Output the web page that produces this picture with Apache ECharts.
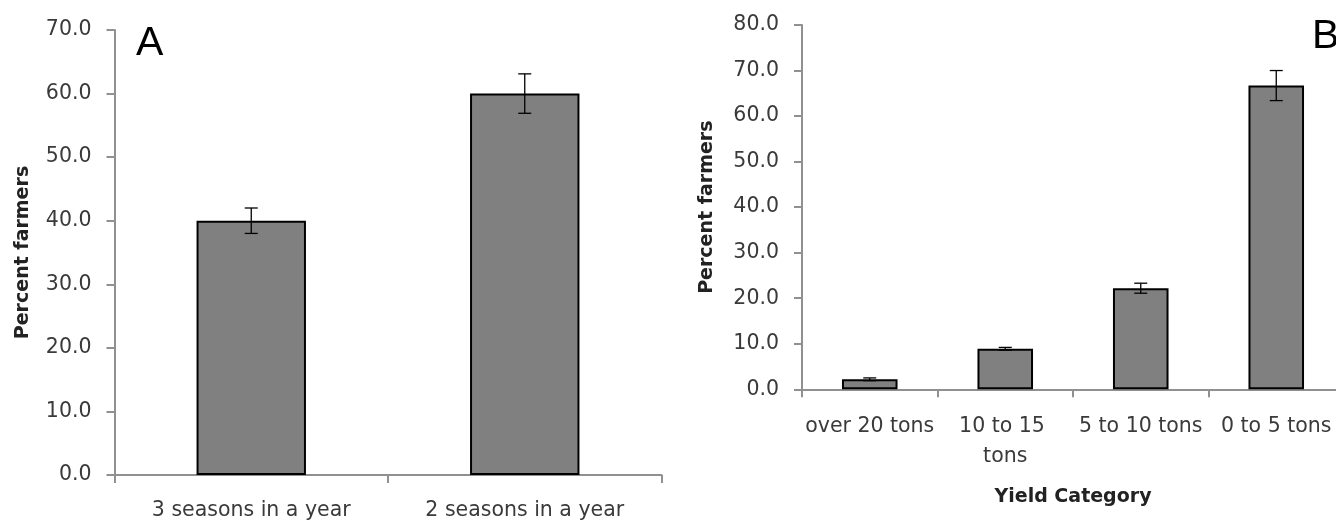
<!DOCTYPE html>
<html>
<head>
<meta charset="utf-8">
<script src="https://cdn.jsdelivr.net/npm/echarts@6/dist/echarts.min.js"></script>
<style>
  html, body { margin: 0; padding: 0; background: #ffffff; }
  #chart { width: 1336px; height: 520px; }
</style>
</head>
<body>
<div id="chart"></div>
<script>
// Panel A data
var categoriesA = ['3 seasons in a year', '2 seasons in a year'];
var valuesA = [40.0, 60.0];
var errorsA = [2.0, 3.1];
var yTicksA = { min: 0, max: 70, interval: 10 };

// Panel B data
var categoriesB = ['over 20 tons', '10 to 15 tons', '5 to 10 tons', '0 to 5 tons'];
var valuesB = [2.2, 8.9, 22.2, 66.7];
var errorsB = [0.3, 0.3, 1.1, 3.3];
var yTicksB = { min: 0, max: 80, interval: 10 };

var panelLabels = ['A', 'B'];
var yAxisName = 'Percent farmers';
var xAxisNameB = 'Yield Category';

var axisColor = '#909090';
var labelColor = '#3a3a3a';
var nameColor = '#222222';
var barFill = '#808080';
var fontFam = 'DejaVu Sans';

function errorSeries(xi, yi, values, errors) {
  return {
    type: 'custom',
    xAxisIndex: xi,
    yAxisIndex: yi,
    silent: true,
    z: 5,
    data: values.map(function (v, i) { return [i, v - errors[i], v + errors[i]]; }),
    renderItem: function (params, api) {
      var x = api.value(0);
      var lo = api.coord([x, api.value(1)]);
      var hi = api.coord([x, api.value(2)]);
      var hw = 6.5;
      var st = { stroke: '#000000', lineWidth: 1.3 };
      return {
        type: 'group',
        children: [
          { type: 'line', shape: { x1: hi[0], y1: hi[1], x2: lo[0], y2: lo[1] }, style: st },
          { type: 'line', shape: { x1: hi[0] - hw, y1: hi[1], x2: hi[0] + hw, y2: hi[1] }, style: st },
          { type: 'line', shape: { x1: lo[0] - hw, y1: lo[1], x2: lo[0] + hw, y2: lo[1] }, style: st }
        ]
      };
    }
  };
}

function yAxisCfg(gi, ticks, gap) {
  return {
    type: 'value',
    gridIndex: gi,
    min: ticks.min,
    max: ticks.max,
    interval: ticks.interval,
    name: yAxisName,
    nameLocation: 'middle',
    nameRotate: 90,
    nameGap: gap,
    nameTextStyle: { fontFamily: fontFam, fontWeight: 'bold', fontSize: 19, color: nameColor },
    axisLine: { show: true, lineStyle: { color: axisColor, width: 2 } },
    axisTick: { show: true, length: 8, lineStyle: { color: axisColor, width: 2 } },
    splitLine: { show: false },
    axisLabel: {
      margin: 23,
      fontFamily: fontFam,
      fontSize: 20.5,
      color: labelColor,
      formatter: function (v) { return v.toFixed(1); }
    }
  };
}

function xAxisCfg(gi, cats, extra) {
  var ax = {
    type: 'category',
    gridIndex: gi,
    data: cats,
    axisLine: { show: true, lineStyle: { color: axisColor, width: 2 } },
    axisTick: { show: true, length: 8, alignWithLabel: false, lineStyle: { color: axisColor, width: 2 } },
    axisLabel: {
      interval: 0,
      margin: 21,
      fontFamily: fontFam,
      fontSize: 20.5,
      lineHeight: 30,
      color: labelColor
    }
  };
  if (extra) {
    for (var k in extra) { ax[k] = extra[k]; }
  }
  return ax;
}

var chart = echarts.init(document.getElementById('chart'), null, { renderer: 'canvas' });

var option = {
  backgroundColor: '#ffffff',
  animation: false,
  title: [
    { text: panelLabels[0], left: 136, top: 23, padding: 0,
      textStyle: { fontFamily: 'Liberation Sans', fontWeight: 'normal', fontSize: 41, color: '#000000' } },
    { text: panelLabels[1], left: 1312, top: 16, padding: 0,
      textStyle: { fontFamily: 'Liberation Sans', fontWeight: 'normal', fontSize: 41, color: '#000000' } }
  ],
  grid: [
    { left: 114.5, top: 30, width: 547, height: 445, containLabel: false, outerBoundsMode: 'none' },
    { left: 802, top: 25, width: 542, height: 364.3, containLabel: false, outerBoundsMode: 'none' }
  ],
  xAxis: [
    xAxisCfg(0, categoriesA),
    xAxisCfg(1, categoriesB, {
      name: xAxisNameB,
      nameLocation: 'middle',
      nameGap: 98,
      nameTextStyle: { fontFamily: fontFam, fontWeight: 'bold', fontSize: 19, color: nameColor, verticalAlign: 'top' },
      axisLabel: {
        interval: 0,
        margin: 22,
        fontFamily: fontFam,
        fontSize: 20.5,
        lineHeight: 30,
        color: labelColor,
        width: 132,
        overflow: 'break'
      }
    })
  ],
  yAxis: [
    yAxisCfg(0, yTicksA, 82),
    yAxisCfg(1, yTicksB, 85.5)
  ],
  series: [
    {
      type: 'bar',
      xAxisIndex: 0,
      yAxisIndex: 0,
      data: valuesA,
      barWidth: '40%',
      itemStyle: { color: barFill, borderColor: '#000000', borderWidth: 2 },
      z: 3
    },
    {
      type: 'bar',
      xAxisIndex: 1,
      yAxisIndex: 1,
      data: valuesB,
      barWidth: '41%',
      itemStyle: { color: barFill, borderColor: '#000000', borderWidth: 2 },
      z: 3
    },
    errorSeries(0, 0, valuesA, errorsA),
    errorSeries(1, 1, valuesB, errorsB)
  ]
};

chart.setOption(option);
</script>
</body>
</html>
